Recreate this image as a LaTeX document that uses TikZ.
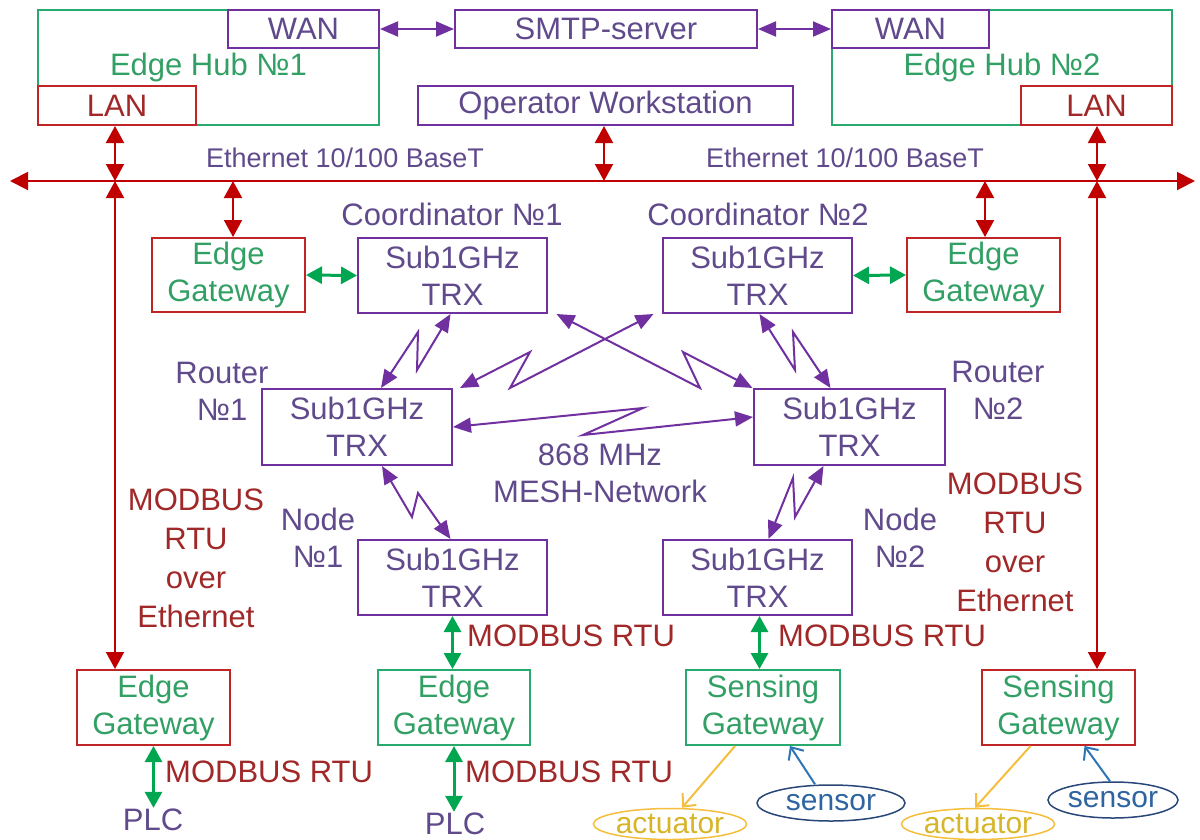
\documentclass[tikz,border=0pt]{standalone}
\usepackage{fontspec}
\setmainfont{Liberation Sans}
\usetikzlibrary{arrows.meta,shapes.geometric,calc}
\definecolor{pline}{RGB}{112,48,160}
\definecolor{ptext}{RGB}{96,74,140}
\definecolor{rline}{RGB}{192,0,0}
\definecolor{rbox}{RGB}{192,36,36}
\definecolor{rtext}{RGB}{160,40,40}
\definecolor{gbox}{RGB}{40,170,110}
\definecolor{garrow}{RGB}{0,166,80}
\definecolor{gtext}{RGB}{50,160,100}
\definecolor{yline}{RGB}{245,190,60}
\definecolor{ytext}{RGB}{215,180,40}
\definecolor{bline}{RGB}{46,117,182}
\definecolor{bell}{RGB}{40,70,120}
\definecolor{btext}{RGB}{46,100,160}
\begin{document}
\begin{tikzpicture}[x=1pt,y=-1pt,
  txt/.style={font=\fontsize{31}{37}\selectfont, align=center, inner sep=1pt},
  bx/.style={txt, draw, line width=2pt, inner sep=0pt},
  pbox/.style={bx, draw=pline, text=ptext},
  rbx/.style={bx, draw=rbox, text=gtext},
  gbx/.style={bx, draw=gbox, text=gtext},
  parr/.style={draw=pline, line width=2pt, line join=miter, {Triangle[length=18pt,width=15pt]}-{Triangle[length=18pt,width=15pt]}},
  rarr/.style={draw=rline, line width=2pt, {Triangle[length=17pt,width=18pt]}-{Triangle[length=17pt,width=18pt]}},
  garr/.style={draw=garrow, line width=3pt, {Triangle[length=16pt,width=17pt]}-{Triangle[length=16pt,width=17pt]}},
  yarr/.style={draw=yline, line width=2pt, -{Straight Barb[length=10pt,width=18pt]}},
  barr/.style={draw=bline, line width=2pt, -{Straight Barb[length=10pt,width=18pt]}},
  ell/.style={ellipse, draw, line width=1.5pt, inner sep=0pt, font=\fontsize{30}{35}\selectfont}
]
\useasboundingbox (0,0) rectangle (1200,839);

% top hubs
\node[gbx, minimum width=341pt, minimum height=115pt] (hub1) at (208.5,67.5) {Edge Hub №1};
\node[pbox, minimum width=151pt, minimum height=38pt] (wan1) at (303.5,29) {WAN};
\node[bx, draw=rbox, text=rtext, minimum width=158pt, minimum height=39pt] (lan1) at (117,105.5) {LAN};
\node[pbox, minimum width=302pt, minimum height=38pt] (smtp) at (606,29) {SMTP-server};
\node[gbx, minimum width=340pt, minimum height=115pt] (hub2) at (1002,67.5) {Edge Hub №2};
\node[pbox, minimum width=157pt, minimum height=38pt] (wan2) at (910.5,29) {WAN};
\node[bx, draw=rbox, text=rtext, minimum width=151pt, minimum height=39pt] (lan2) at (1096.5,105.5) {LAN};
\node[pbox, minimum width=375pt, minimum height=39pt] (opws) at (605.5,105.5) {Operator Workstation};

\draw[parr] (wan1.east) -- (smtp.west);
\draw[parr] (smtp.east) -- (wan2.west);

% ethernet
\coordinate (ethL) at (10,181);
\coordinate (ethR) at (1195,181);
\coordinate (e1) at (115,181);
\coordinate (e2) at (233,181);
\coordinate (e3) at (604,181);
\coordinate (e4) at (985,181);
\coordinate (e5) at (1097,181);
\draw[draw=rline, line width=2pt, {Triangle[length=18pt,width=18pt]}-{Triangle[length=18pt,width=18pt]}] (ethL) -- (ethR);
\node[txt, text=ptext, font=\fontsize{27}{32}\selectfont] (eth1) at (345,158) {Ethernet 10/100 BaseT};
\node[txt, text=ptext, font=\fontsize{27}{32}\selectfont] (eth2) at (845,158) {Ethernet 10/100 BaseT};

% second row
\node[rbx, minimum width=153pt, minimum height=74pt] (eg1) at (228.5,275) {Edge\\Gateway};
\node[pbox, minimum width=189pt, minimum height=75pt] (c1) at (452.5,275.5) {Sub1GHz\\TRX};
\node[pbox, minimum width=189pt, minimum height=75pt] (c2) at (757.5,275.5) {Sub1GHz\\TRX};
\node[rbx, minimum width=153pt, minimum height=74pt] (eg2) at (983.5,275) {Edge\\Gateway};
\node[txt, text=ptext] (c1l) at (452,214) {Coordinator №1};
\node[txt, text=ptext] (c2l) at (758,214) {Coordinator №2};

% routers
\node[pbox, minimum width=190pt, minimum height=76pt] (r1) at (357,427) {Sub1GHz\\TRX};
\node[pbox, minimum width=191pt, minimum height=76pt] (r2) at (849.5,427) {Sub1GHz\\TRX};
\node[txt, text=ptext] (r1l) at (222,391) {Router\\№1};
\node[txt, text=ptext] (r2l) at (998,390) {Router\\№2};

% nodes
\node[pbox, minimum width=189pt, minimum height=75pt] (n1) at (452.5,577.5) {Sub1GHz\\TRX};
\node[pbox, minimum width=189pt, minimum height=75pt] (n2) at (757.5,577.5) {Sub1GHz\\TRX};
\node[txt, text=ptext] (n1l) at (318,538) {Node\\№1};
\node[txt, text=ptext] (n2l) at (900,538) {Node\\№2};

\node[txt, text=ptext] (mesh) at (600,473) {868 MHz\\MESH-Network};

% bottom gateways
\node[rbx, minimum width=153pt, minimum height=75pt] (egb1) at (153.5,707.5) {Edge\\Gateway};
\node[gbx, minimum width=152pt, minimum height=75pt] (egb2) at (454,707.5) {Edge\\Gateway};
\node[gbx, minimum width=154pt, minimum height=75pt] (sg1) at (763,707.5) {Sensing\\Gateway};
\node[rbx, minimum width=153pt, minimum height=75pt] (sg2) at (1058.5,707.5) {Sensing\\Gateway};

\node[txt, text=rtext, font=\fontsize{31}{39}\selectfont] (mb1) at (196,558) {MODBUS\\RTU\\over\\Ethernet};
\node[txt, text=rtext, font=\fontsize{31}{39}\selectfont] (mb2) at (1015,542) {MODBUS\\RTU\\over\\Ethernet};

\node[txt, text=rtext, anchor=west] (mr1) at (466,636) {MODBUS RTU};
\node[txt, text=rtext, anchor=west] (mr2) at (777,636) {MODBUS RTU};
\node[txt, text=rtext, anchor=west] (mr3) at (164,772) {MODBUS RTU};
\node[txt, text=rtext, anchor=west] (mr4) at (464,772) {MODBUS RTU};

\node[txt, text=ptext] (plc1) at (153,820) {PLC};
\node[txt, text=ptext] (plc2) at (455,824) {PLC};

\node[ell, draw=yline, text=ytext, minimum width=150pt, minimum height=31pt] (act1) at (670,824) {actuator};
\node[ell, draw=bell, text=btext, minimum width=148pt, minimum height=36pt] (sen1) at (831,803) {sensor};
\node[ell, draw=yline, text=ytext, minimum width=145pt, minimum height=31pt] (act2) at (978,824) {actuator};
\node[ell, draw=bell, text=btext, minimum width=130pt, minimum height=36pt] (sen2) at (1113,800) {sensor};

% red connectors
\draw[rarr] (lan1.south -| e1) -- (e1);
\draw[rarr] (e2) -- (eg1.north -| e2);
\draw[rarr] (opws.south -| e3) -- (e3);
\draw[rarr] (e4) -- (eg2.north -| e4);
\draw[rarr] (lan2.south -| e5) -- (e5);
\draw[rarr] (e1) -- (egb1.north -| e1);
\draw[rarr] (e5) -- (sg2.north -| e5);

% green connectors
\draw[garr] (eg1.east) -- (c1.west);
\draw[garr] (c2.east) -- (eg2.west);
\draw[garr] (n1.south) -- (n1.south |- egb2.north);
\draw[garr] ([xshift=2pt]n2.south) -- ([xshift=2pt]n2.south |- sg1.north);
\draw[garr] (egb1.south) -- (egb1.south |- plc1.north);
\draw[garr] (egb2.south) -- (egb2.south |- plc2.north);

% mesh zigzags
\draw[parr] ([xshift=24pt]r1.north) -- (418,332) -- (417,370) -- ([xshift=-2pt]c1.south);
\draw[parr] ([xshift=104pt]c1.south) -- (700,388) -- (683,352) -- ([xshift=-97pt]r2.north);
\draw[parr] ([xshift=-104pt]c2.south) -- (510,388) -- (530,352) -- ([xshift=103pt]r1.north);
\draw[parr] ([xshift=2pt]c2.south) -- (795,370) -- (793,332) -- ([xshift=-19pt]r2.north);
\draw[parr] (r1.east) -- (643,408) -- (583,435) -- ([yshift=10pt]r2.west);
\draw[parr] ([xshift=25pt]r1.south) -- (412,517) -- (418,493) -- ([xshift=-2pt]n1.north);
\draw[parr] ([xshift=-26pt]r2.south) -- (795,517) -- (793,478) -- ([xshift=11pt]n2.north);

% sensors / actuators
\draw[yarr] ([xshift=-28pt]sg1.south) -- ([xshift=12pt]act1.north);
\draw[barr] ([xshift=-16pt]sen1.north) -- ([xshift=27pt]sg1.south);
\draw[yarr] ([xshift=-28pt]sg2.south) -- ([xshift=-3pt]act2.north);
\draw[barr] ([xshift=-3pt]sen2.north) -- ([xshift=26pt]sg2.south);
\end{tikzpicture}
\end{document}
